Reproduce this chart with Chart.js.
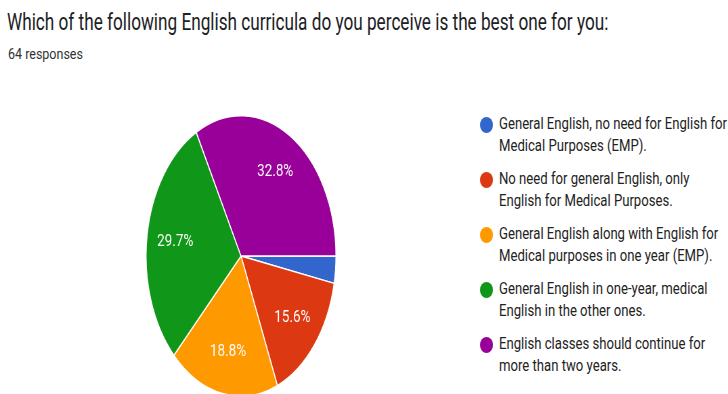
<!DOCTYPE html>
<html>
<head>
<meta charset="utf-8">
<script src="https://cdn.jsdelivr.net/npm/chart.js@4.4.1/dist/chart.umd.min.js"></script>
<style>
  html, body { margin: 0; padding: 0; background: #fff; }
  body { width: 728px; height: 394px; overflow: hidden; position: relative; font-family: Roboto, "Noto Sans", sans-serif; }
  .fit { position: absolute; white-space: nowrap; transform-origin: 0 0; }
  #title { left: 7px; top: 10px; font-size: 24px; line-height: 24px; color: #202124; }
  #sub { left: 8px; top: 47px; font-size: 15.5px; line-height: 15.5px; color: #333; }
  #pieBox { position: absolute; left: 99.5px; top: 115px; width: 282px; height: 282px; transform: scaleX(0.677); transform-origin: 50% 50%; }
  #legend { position: absolute; left: 480px; top: 113px; }
  .item { position: relative; height: 44px; margin-bottom: 11px; }
  .dot { position: absolute; left: 0; top: 4px; width: 13px; height: 16px; border-radius: 50%; }
  .txt { position: absolute; left: 19px; top: 0; font-size: 16px; line-height: 22px; color: #222; transform-origin: 0 0; }
</style>
</head>
<body>
<div id="title" class="fit">Which of the following English curricula do you perceive is the best one for you:</div>
<div id="sub" class="fit">64 responses</div>
<div id="pieBox"><canvas id="pie"></canvas></div>
<div id="legend"></div>

<script>
// answers to the question, in the order the pie draws them (clockwise from 3 o'clock)
const categories = [
  "General English, no need for English for Medical Purposes (EMP).",
  "No need for general English, only English for Medical Purposes.",
  "General English along with English for Medical purposes in one year (EMP).",
  "General English in one-year, medical English in the other ones.",
  "English classes should continue for more than two years."
];
const responses = [2, 10, 12, 19, 21];
const colors = ["#3366cc", "#dc3912", "#ff9900", "#109618", "#990099"];

// squeeze text sideways so it lines up with the picture
function fitWidth(id, target) {
  const el = document.getElementById(id);
  el.style.transform = "scaleX(" + (target / el.offsetWidth) + ")";
}
fitWidth("title", 601);
fitWidth("sub", 75);

// legend, built from the categories
const legendScale = 0.82;
const legend = document.getElementById("legend");
categories.forEach((c, i) => {
  const item = document.createElement("div");
  item.className = "item";
  const dot = document.createElement("span");
  dot.className = "dot";
  dot.style.background = colors[i];
  const txt = document.createElement("div");
  txt.className = "txt";
  txt.style.width = (230 / legendScale) + "px";
  txt.style.transform = "scaleX(" + legendScale + ")";
  txt.textContent = c;
  item.appendChild(dot);
  item.appendChild(txt);
  legend.appendChild(item);
});

// percent labels inside the slices
const sliceLabels = {
  id: "sliceLabels",
  afterDatasetsDraw(chart) {
    const ctx = chart.ctx;
    const data = chart.data.datasets[0].data;
    const total = data.reduce((a, b) => a + b, 0);
    chart.getDatasetMeta(0).data.forEach((arc, i) => {
      const pct = data[i] / total * 100;
      if (pct < 5) return;
      const p = arc.getProps(["x", "y", "startAngle", "endAngle", "outerRadius"], true);
      const mid = (p.startAngle + p.endAngle) / 2;
      const r = p.outerRadius * 0.7;
      ctx.save();
      ctx.translate(p.x + Math.cos(mid) * r, p.y + Math.sin(mid) * r);
      ctx.scale(1.21, 1);
      ctx.fillStyle = "#fff";
      ctx.font = "16.5px Roboto";
      ctx.textAlign = "center";
      ctx.textBaseline = "middle";
      ctx.fillText(pct.toFixed(1) + "%", 0, 0);
      ctx.restore();
    });
  }
};

new Chart(document.getElementById("pie"), {
  type: "pie",
  data: {
    labels: categories,
    datasets: [{
      data: responses,
      backgroundColor: colors,
      borderColor: "#fff",
      borderWidth: 1.5
    }]
  },
  options: {
    responsive: true,
    maintainAspectRatio: false,
    animation: false,
    rotation: 90,
    layout: { padding: 0 },
    plugins: {
      legend: { display: false },
      tooltip: { enabled: false }
    }
  },
  plugins: [sliceLabels]
});
</script>
</body>
</html>
